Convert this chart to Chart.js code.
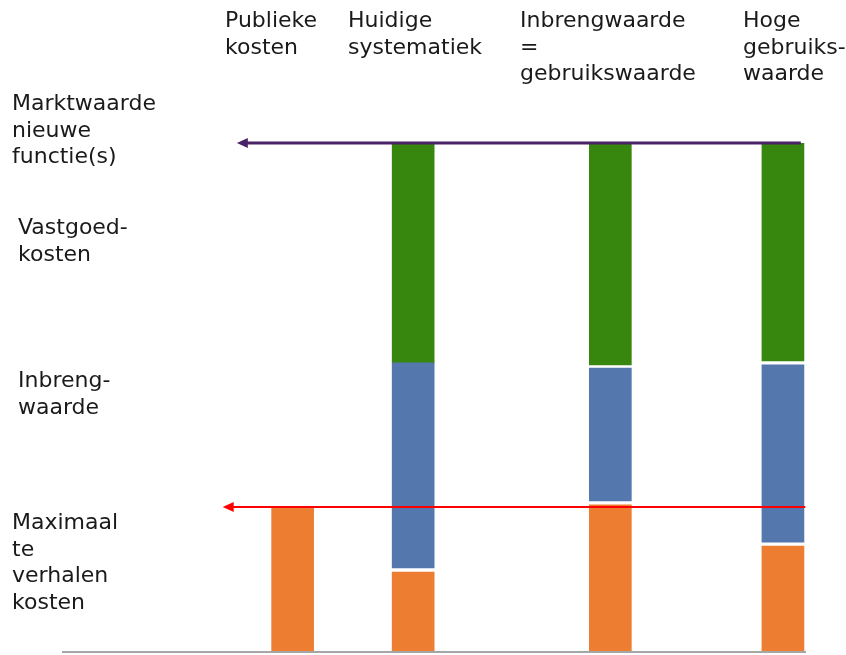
<!DOCTYPE html>
<html>
<head>
<meta charset="utf-8">
<script src="https://cdn.jsdelivr.net/npm/chart.js@4/dist/chart.umd.min.js"></script>
<style>
  body { margin: 0; background: #fff; }
  #wrap { position: relative; width: 846px; height: 655px; }
  .lbl {
    position: absolute;
    font-family: "DejaVu Sans", Verdana, sans-serif;
    font-size: 22px;
    line-height: 26.5px;
    color: #1a1a1a;
    white-space: pre;
  }
</style>
</head>
<body>
<div id="wrap">
  <canvas id="chart"></canvas>
</div>
<script>
// columns (x position on a 0..10 scale)
const columns = ['Publieke\nkosten', 'Huidige\nsystematiek', 'Inbrengwaarde\n=\ngebruikswaarde', 'Hoge\ngebruiks-\nwaarde'];
const colPos = [3.10, 4.72, 7.37, 9.69];

// left-hand labels
const sideLabels = ['Marktwaarde\nnieuwe\nfunctie(s)', 'Vastgoed-\nkosten', 'Inbreng-\nwaarde', 'Maximaal\nte\nverhalen\nkosten'];

// segments [from, to], market value = 100
const kosten = [[0, 28.5], [0, 15.7], [0, 28.9], [0, 20.8]];
const inbreng = [null, [16.5, 56.8], [29.7, 55.8], [21.6, 56.4]];
const vastgoed = [null, [56.8, 100], [56.4, 100], [57.2, 100]];

// arrows: value level, from x, to x (arrow tip)
const marktwaarde = 100;
const maxKosten = 28.5;
const marktArrow = [9.93, 2.35];
const kostenArrow = [9.99, 2.16];

// html labels
const colLeft = [225, 348, 520, 743];
const sideBox = [[12, 90], [18, 214], [18, 367], [12, 509]];
const wrap = document.getElementById('wrap');
columns.forEach((t, i) => {
  const d = document.createElement('div');
  d.className = 'lbl';
  d.textContent = t;
  d.style.left = colLeft[i] + 'px';
  d.style.top = '7px';
  wrap.appendChild(d);
});
sideLabels.forEach((t, i) => {
  const d = document.createElement('div');
  d.className = 'lbl';
  d.textContent = t;
  d.style.left = sideBox[i][0] + 'px';
  d.style.top = sideBox[i][1] + 'px';
  wrap.appendChild(d);
});

const toPoints = arr => arr.map((v, i) => v ? { x: colPos[i], y: v } : null).filter(p => p);

const arrows = {
  id: 'arrows',
  afterDatasetsDraw(chart) {
    const { ctx, scales: { x, y } } = chart;
    ctx.save();
    // baseline
    ctx.strokeStyle = '#a6a6a6';
    ctx.lineWidth = 2;
    ctx.beginPath();
    ctx.moveTo(x.getPixelForValue(0), y.getPixelForValue(0));
    ctx.lineTo(x.getPixelForValue(10), y.getPixelForValue(0));
    ctx.stroke();

    function arrow(level, from, to, color, w) {
      const py = y.getPixelForValue(level);
      const x1 = x.getPixelForValue(from);
      const x2 = x.getPixelForValue(to);
      ctx.strokeStyle = color;
      ctx.fillStyle = color;
      ctx.lineWidth = w;
      ctx.beginPath();
      ctx.moveTo(x1, py);
      ctx.lineTo(x2 + 8, py);
      ctx.stroke();
      ctx.beginPath();
      ctx.moveTo(x2, py);
      ctx.lineTo(x2 + 11, py - 5);
      ctx.lineTo(x2 + 11, py + 5);
      ctx.closePath();
      ctx.fill();
    }
    arrow(marktwaarde, marktArrow[0], marktArrow[1], '#4a2366', 3);
    arrow(maxKosten, kostenArrow[0], kostenArrow[1], '#ff0000', 2);
    ctx.restore();
  }
};

new Chart(document.getElementById('chart'), {
  type: 'bar',
  data: {
    datasets: [
      { label: 'Maximaal te verhalen kosten', data: toPoints(kosten), backgroundColor: '#ed7d31' },
      { label: 'Inbrengwaarde', data: toPoints(inbreng), backgroundColor: '#5477ae' },
      { label: 'Vastgoedkosten', data: toPoints(vastgoed), backgroundColor: '#37870e' }
    ]
  },
  options: {
    responsive: true,
    maintainAspectRatio: false,
    animation: false,
    layout: { padding: { left: 62, right: 40, top: 143, bottom: 3 } },
    datasets: { bar: { grouped: false, barThickness: 42, borderSkipped: false } },
    plugins: { legend: { display: false }, tooltip: { enabled: false } },
    scales: {
      x: { type: 'linear', min: 0, max: 10, offset: false, display: false },
      y: { min: 0, max: 100, display: false }
    }
  },
  plugins: [arrows]
});
</script>
</body>
</html>
